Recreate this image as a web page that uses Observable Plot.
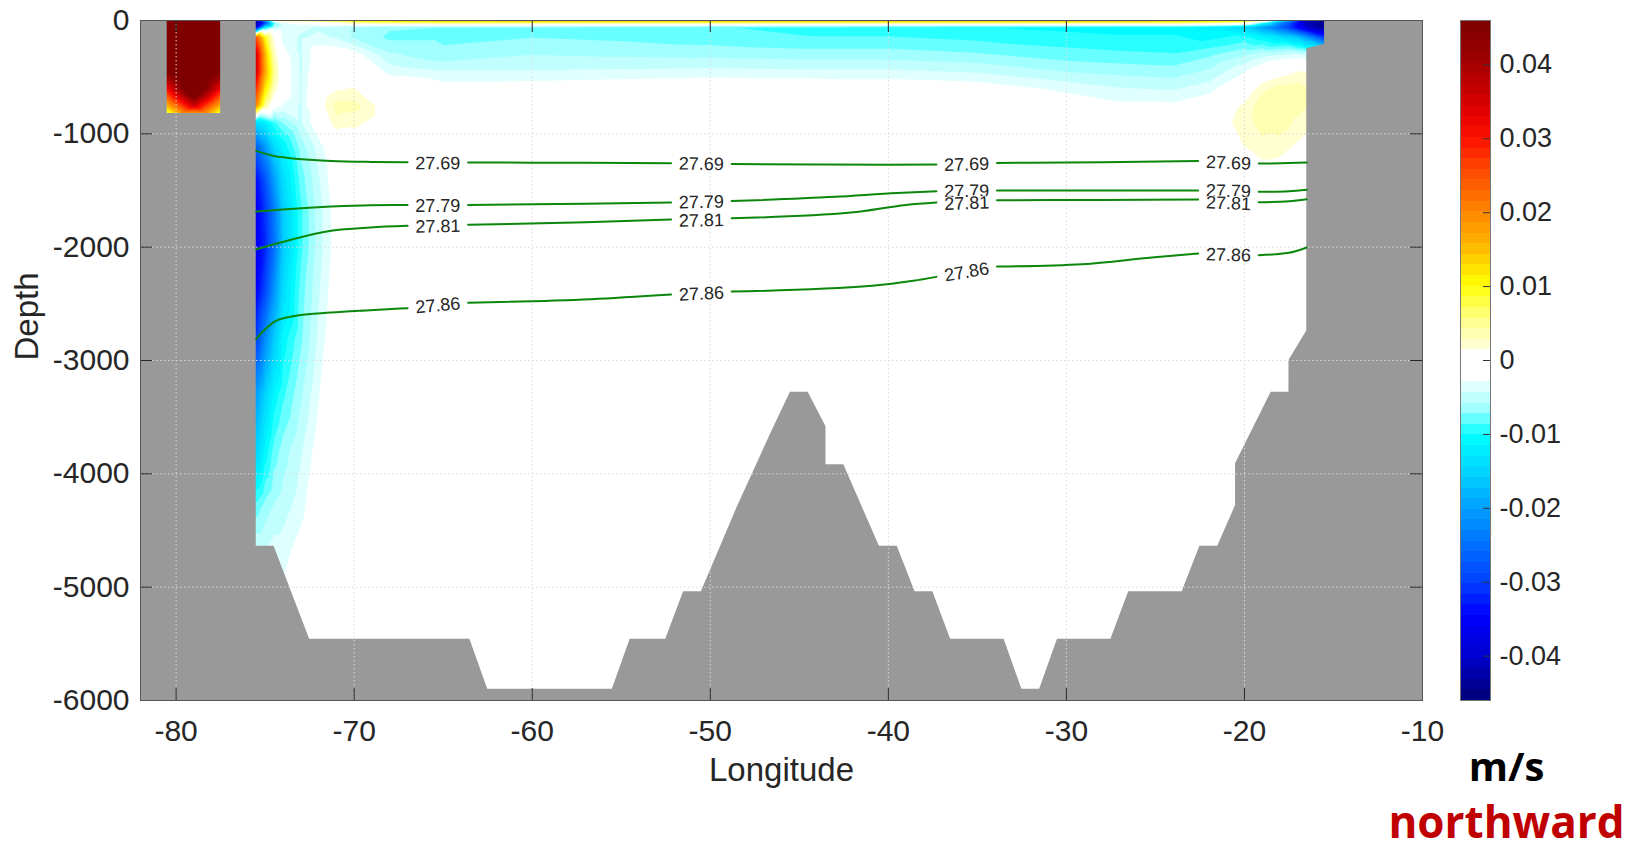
<!DOCTYPE html>
<html><head><meta charset="utf-8">
<script src="https://cdn.jsdelivr.net/npm/d3@7"></script>
<script src="https://cdn.jsdelivr.net/npm/@observablehq/plot@0.6"></script>
<style>
html,body{margin:0;padding:0;background:#fff;}
#fig{position:relative;width:1651px;height:855px;overflow:hidden;}
#fig svg{position:absolute;top:0;}
</style></head><body><div id="fig"></div>
<script>
const gridLon = [-82, -80.5, -79, -77.5, -75.5, -75, -74.5, -74, -73, -72, -71, -70, -68, -65, -60, -55, -50, -45, -40, -35, -30, -27, -24, -22, -20, -19, -18, -17, -16.5, -15.5, -10];
const gridDepth = [0, -20, -60, -150, -300, -450, -600, -750, -900, -1100, -1400, -1700, -2000, -2400, -2800, -3300, -3800, -4300, -4700, -6000];
const velocity = [
  [0, .06, .06, .06, -.044, -.02, .004, .006, .006, .008, .01, .012, .014, .016, .018, .018, .018, .018, .018, .018, .018, .018, .017, .015, .012, .008, -.01, -.03, -.04, -.044, -.044],
  [0, .06, .06, .06, -.044, -.03, -.008, -.003, -.002, -.001, .001, .004, .005, .006, .006, .006, .006, .006, .006, .006, .006, .006, .006, .005, .003, -.008, -.022, -.035, -.042, -.044, -.044],
  [0, .06, .06, .06, -.038, -.012, -.005, -.004, -.004, -.0045, -.005, -.006, -.007, -.0072, -.0075, -.008, -.0085, -.009, -.0095, -.01, -.0105, -.0108, -.0108, -.012, -.015, -.02, -.026, -.035, -.04, -.044, -.044],
  [0, .06, .06, .06, .025, .01, .001, -.0035, -.0045, -.004, -.0045, -.006, -.0075, -.0075, -.0072, -.0075, -.008, -.0085, -.0085, -.009, -.0095, -.0098, -.0098, -.0105, -.0095, -.011, -.013, -.016, -.02, -.03, -.03],
  [0, .06, .06, .06, .035, .016, .003, -.002, -.0045, -.0015, -.0015, -.002, -.0055, -.0068, -.0058, -.006, -.0062, -.0065, -.0065, -.007, -.008, -.0083, -.0085, -.0075, -.006, -.005, -.0045, -.004, -.0045, -.0045, -.0045],
  [0, .046, .06, .046, .035, .017, .005, -.0015, -.0045, -.0008, 0, 0, -.0035, -.0042, -.0042, -.004, -.0038, -.004, -.004, -.0045, -.0058, -.0062, -.0065, -.0055, -.003, -.0012, .0005, .0015, .0015, .0015, .0015],
  [0, .032, .055, .032, .028, .012, .003, -.0015, -.0045, -.0005, .0012, .0015, -.0005, -.002, -.0018, -.0015, -.0012, -.0012, -.0015, -.0018, -.0033, -.0042, -.0045, -.0035, -.0005, .0025, .0035, .0038, .003, .003, .003],
  [0, .016, .036, .016, .02, .005, -.002, -.003, -.0045, .0003, .0035, .0035, 0, -.0005, -.0005, 0, 0, 0, 0, -.0005, -.0015, -.0025, -.0025, -.0015, .0018, .0038, .004, .0035, .003, .003, .003],
  [0, -.002, -.004, -.002, -.014, -.012, -.009, -.007, -.0045, -.0015, .0025, .002, 0, 0, 0, 0, 0, 0, 0, 0, 0, -.001, -.001, 0, .0022, .0035, .0038, .0025, .002, .002, .002],
  [0, 0, 0, 0, -.026, -.02, -.014, -.011, -.0065, -.0035, -.001, 0, 0, 0, 0, 0, 0, 0, 0, 0, 0, 0, 0, 0, .0015, .0025, .0022, .0012, .0008, .0008, .0008],
  [0, 0, 0, 0, -.034, -.028, -.02, -.014, -.008, -.0045, -.0015, 0, 0, 0, 0, 0, 0, 0, 0, 0, 0, 0, 0, 0, 0, 0, 0, 0, 0, 0, 0],
  [0, 0, 0, 0, -.036, -.031, -.024, -.016, -.009, -.005, -.002, 0, 0, 0, 0, 0, 0, 0, 0, 0, 0, 0, 0, 0, 0, 0, 0, 0, 0, 0, 0],
  [0, 0, 0, 0, -.036, -.032, -.025, -.016, -.009, -.005, -.002, 0, 0, 0, 0, 0, 0, 0, 0, 0, 0, 0, 0, 0, 0, 0, 0, 0, 0, 0, 0],
  [0, 0, 0, 0, -.035, -.029, -.021, -.014, -.008, -.0045, -.0015, 0, 0, 0, 0, 0, 0, 0, 0, 0, 0, 0, 0, 0, 0, 0, 0, 0, 0, 0, 0],
  [0, 0, 0, 0, -.03, -.022, -.016, -.011, -.0075, -.004, -.001, 0, 0, 0, 0, 0, 0, 0, 0, 0, 0, 0, 0, 0, 0, 0, 0, 0, 0, 0, 0],
  [0, 0, 0, 0, -.02, -.015, -.011, -.009, -.006, -.003, 0, 0, 0, 0, 0, 0, 0, 0, 0, 0, 0, 0, 0, 0, 0, 0, 0, 0, 0, 0, 0],
  [0, 0, 0, 0, -.015, -.011, -.008, -.0065, -.0045, -.002, 0, 0, 0, 0, 0, 0, 0, 0, 0, 0, 0, 0, 0, 0, 0, 0, 0, 0, 0, 0, 0],
  [0, 0, 0, 0, -.008, -.0065, -.0055, -.005, -.0035, -.001, 0, 0, 0, 0, 0, 0, 0, 0, 0, 0, 0, 0, 0, 0, 0, 0, 0, 0, 0, 0, 0],
  [0, 0, 0, 0, -.004, -.004, -.0035, -.0035, -.002, 0, 0, 0, 0, 0, 0, 0, 0, 0, 0, 0, 0, 0, 0, 0, 0, 0, 0, 0, 0, 0, 0],
  [0, 0, 0, 0, 0, 0, 0, 0, 0, 0, 0, 0, 0, 0, 0, 0, 0, 0, 0, 0, 0, 0, 0, 0, 0, 0, 0, 0, 0, 0, 0]
];

// ---- bathymetry / land (seafloor depth along the section) ----
const bathyLon   = [-82, -80.5, -80.5, -77.5, -77.5, -75.5, -75.5, -74.5, -72.5, -63.5, -62.5, -55.5, -54.5, -52.5, -51.5, -50.5, -48.5, -46.5, -45.5, -44.5, -43.5, -43.5, -42.5, -40.5, -39.5, -38.5, -37.5, -36.5, -33.5, -32.5, -31.5, -30.5, -27.5, -26.5, -23.5, -22.5, -21.5, -20.5, -20.5, -18.5, -17.5, -17.5, -16.5, -16.5, -15.5, -15.5, -10];
const bathyDepth = [0, 0, -820, -820, 0, 0, -4640, -4640, -5460, -5460, -5900, -5900, -5460, -5460, -5040, -5040, -4300, -3610, -3280, -3280, -3585, -3920, -3920, -4640, -4640, -5040, -5040, -5460, -5460, -5900, -5900, -5460, -5460, -5040, -5040, -4640, -4640, -4280, -3910, -3280, -3280, -3000, -2740, -250, -210, 0, 0];

// ---- isopycnals (lon, depth); null = gap left for the inline label ----
const isoLevels = ["27.69", "27.79", "27.81", "27.86"];
const iso2769 = [[-75.5,-1150],[-74.5,-1195],[-73.8,-1210],[-71.3,-1239],[-69,-1248],[-67,-1251],null,[-63.6,-1252],[-57,-1256],[-52.2,-1260],null,[-48.8,-1266],[-44,-1270],[-40,-1272],[-37.3,-1271],null,[-33.9,-1257],[-28,-1250],[-22.6,-1239],null,[-19.2,-1262],[-17.5,-1258],[-16.5,-1252]];
const iso2779 = [[-75.5,-1686],[-73.8,-1665],[-71.3,-1642],[-69.1,-1630],[-67,-1628],null,[-63.6,-1628],[-57,-1616],[-52.2,-1606],null,[-48.8,-1593],[-43,-1556],[-39.5,-1522],[-37.3,-1506],null,[-33.9,-1500],[-28,-1500],[-22.6,-1500],null,[-19.2,-1512],[-17.5,-1506],[-16.5,-1494]];
const iso2781 = [[-75.5,-2018],[-73.8,-1945],[-71.3,-1856],[-69.1,-1827],[-67,-1812],null,[-63.6,-1803],[-57,-1780],[-52.2,-1756],null,[-48.8,-1745],[-42.1,-1695],[-39,-1627],[-37.3,-1606],null,[-33.9,-1586],[-28,-1583],[-22.6,-1580],null,[-19.2,-1603],[-17.5,-1595],[-16.5,-1577]];
const iso2786 = [[-75.5,-2810],[-75,-2725],[-74.4,-2650],[-73.8,-2620],[-71.3,-2577],[-69.1,-2556],[-67,-2538],null,[-63.6,-2490],[-56.7,-2459],[-52.2,-2418],null,[-48.8,-2392],[-40.9,-2341],[-38.6,-2297],[-37.3,-2262],null,[-33.9,-2171],[-29.1,-2150],[-25.2,-2091],[-22.6,-2056],null,[-19.2,-2071],[-17.5,-2050],[-16.5,-2003]];
const labelLon = [-65.3, -50.5, -35.6, -20.9];
const label2769 = [-1262, -1267, -1272, -1258];
const label2779 = [-1642, -1604, -1507, -1507];
const label2781 = [-1818, -1766, -1614, -1614];
const label2786 = [-2515, -2412, -2220, -2070];

// ---- axes / colorbar ----
const xTicks = [-80, -70, -60, -50, -40, -30, -20, -10];
const yTicks = [-6000, -5000, -4000, -3000, -2000, -1000, 0];
const xDomain = [-82, -10];
const yDomain = [-6000, 0];
const cbDomain = [-0.046, 0.046];
const cbTicks = [-0.04, -0.03, -0.02, -0.01, 0, 0.01, 0.02, 0.03, 0.04];
const nColors = 64;
const colorStops = [-0.046, -0.0407, -0.0353, -0.0307, -0.0257, -0.0207, -0.0162, -0.011, -0.0073, -0.0043, -0.0029, 0, 0.00144, 0.0052, 0.0096, 0.0118, 0.0153, 0.0199, 0.0258, 0.0293, 0.0332, 0.0398, 0.0446];
const colorRange = ["#000080", "#0000d0", "#0000ff", "#0040ff", "#0070ff", "#00a0ff", "#00d0ff", "#00ffff", "#a0ffff", "#e0ffff", "#ffffff", "#ffffff", "#ffffd0", "#ffff80", "#ffff00", "#ffe000", "#ffb000", "#ff8000", "#ff4000", "#ff1000", "#e00000", "#a00000", "#800000"];

// ---- build tables ----
const points = [];
gridDepth.forEach((depth, i) => gridLon.forEach((lon, j) => points.push({lon, depth, v: velocity[i][j]})));
const bathy = bathyLon.map((lon, i) => ({lon, depth: bathyDepth[i]}));
const isoLines = [iso2769, iso2779, iso2781, iso2786];
const isoLabelDepths = [label2769, label2779, label2781, label2786];
const isoTable = [];
isoLines.forEach((line, k) => line.forEach(p => isoTable.push({level: isoLevels[k], lon: p ? p[0] : NaN, depth: p ? p[1] : NaN})));

const step = (cbDomain[1] - cbDomain[0]) / nColors;
const levels = d3.range(nColors).map(k => cbDomain[0] + k * step);

// frame geometry (style)
const W = 1440, H = 855, mL = 140, mR = 18, mT = 20, mB = 155;
const fw = W - mL - mR, fh = H - mT - mB;
const pxPerDeg = fw / (xDomain[1] - xDomain[0]), pxPerM = fh / (yDomain[1] - yDomain[0]);

const labelTable = [];
isoLines.forEach((line, k) => {
  const segs = [[]];
  line.forEach(p => { if (p) segs[segs.length - 1].push(p); else segs.push([]); });
  labelLon.forEach((lon, i) => {
    const a = segs[i][segs[i].length - 1], b = segs[i + 1][0];
    const ang = Math.atan2(-(b[1] - a[1]) * pxPerM, (b[0] - a[0]) * pxPerDeg) * 180 / Math.PI;
    labelTable.push({level: isoLevels[k], lon, depth: isoLabelDepths[k][i], angle: ang});
  });
});

const colorOpts = {type: "linear", domain: colorStops, range: colorRange, interpolate: "rgb", clamp: true};
const fontMain = "'Liberation Sans', Arial, Helvetica, sans-serif";
const ink = "#262626";

const main = Plot.plot({
  width: W, height: H,
  marginLeft: mL, marginRight: mR, marginTop: mT, marginBottom: mB,
  x: {domain: xDomain},
  y: {domain: yDomain},
  color: colorOpts,
  style: {fontFamily: fontMain, fontSize: "30px", color: ink, background: "transparent", overflow: "visible"},
  marks: [
    Plot.contour(points, {x: "lon", y: "depth", fill: "v", thresholds: levels, interpolate: "barycentric", pixelSize: 1, stroke: "none"}),
    Plot.areaY(bathy, {x: "lon", y1: () => yDomain[0], y2: "depth", fill: "#999999"}),
    Plot.ruleX(xTicks, {x: d => d, stroke: "#dadada", strokeDasharray: "1.5,2.5", strokeWidth: 1}),
    Plot.ruleY(yTicks, {y: d => d, stroke: "#dadada", strokeDasharray: "1.5,2.5", strokeWidth: 1}),
    Plot.line(isoTable, {x: "lon", y: "depth", z: "level", stroke: "#0b870b", strokeWidth: 2, curve: "monotone-x"}),
    Plot.text(labelTable, {x: "lon", y: "depth", text: "level", rotate: "angle", fontSize: 18, fill: ink, stroke: "white", strokeWidth: 2}),
    Plot.tickX(xTicks, {x: d => d, insetTop: fh - 12, stroke: ink}),
    Plot.tickX(xTicks, {x: d => d, insetBottom: fh - 12, stroke: ink}),
    Plot.tickY(yTicks, {y: d => d, insetRight: fw - 12, stroke: ink}),
    Plot.tickY(yTicks, {y: d => d, insetLeft: fw - 12, stroke: ink}),
    Plot.frame({stroke: "#555555", strokeWidth: 1}),
    Plot.axisX({ticks: xTicks, tickSize: 0, tickPadding: 19, tickFormat: d => String(d), label: null, fill: ink}),
    Plot.axisY({ticks: yTicks, tickSize: 0, tickPadding: 11, tickFormat: d => String(d), label: null, fill: ink}),
    Plot.text(["Longitude"], {text: d => d, frameAnchor: "bottom", lineAnchor: "middle", dy: 70, fontSize: 33, fill: ink}),
    Plot.text(["Depth"], {text: d => d, frameAnchor: "left", lineAnchor: "middle", dx: -113, rotate: -90, fontSize: 33, fill: ink})
  ]
});
main.style.left = "0px";

// colorbar panel: its SVG starts at x = 1360 so the unit texts stay inside it
const cbLeft = 1360, cbW = 1651 - cbLeft, cbML = 100, cbBar = 30;
const cb = Plot.plot({
  width: cbW, height: H,
  marginLeft: cbML, marginRight: cbW - cbML - cbBar, marginTop: mT, marginBottom: mB,
  x: {domain: [0, 1], axis: null},
  y: {domain: cbDomain},
  color: colorOpts,
  style: {fontFamily: fontMain, fontSize: "27px", color: ink, background: "transparent", overflow: "visible"},
  marks: [
    Plot.rect(levels, {x1: () => 0, x2: () => 1, y1: d => d, y2: d => d + step, fill: d => d, shapeRendering: "crispEdges"}),
    Plot.tickY(cbTicks, {y: d => d, insetLeft: 23, stroke: "#333"}),
    Plot.frame({stroke: "#777777"}),
    Plot.axisY({anchor: "right", ticks: cbTicks, tickSize: 0, tickPadding: 9, tickFormat: d => String(d), label: null, fill: ink}),
    Plot.text(["m/s"], {text: d => d, frameAnchor: "bottom", lineAnchor: "middle", dx: 31, dy: 68, fontSize: 40, fontWeight: "bold", fontFamily: "'Open Sans', sans-serif", fill: "#000000"}),
    Plot.text(["northward"], {text: d => d, frameAnchor: "bottom", lineAnchor: "middle", dx: 31, dy: 123, fontSize: 44, fontWeight: "bold", fontFamily: "'Open Sans', sans-serif", fill: "#c00000"})
  ]
});
cb.style.left = cbLeft + "px";

const fig = document.getElementById("fig");
fig.appendChild(main);
fig.appendChild(cb);
</script>
</body></html>
